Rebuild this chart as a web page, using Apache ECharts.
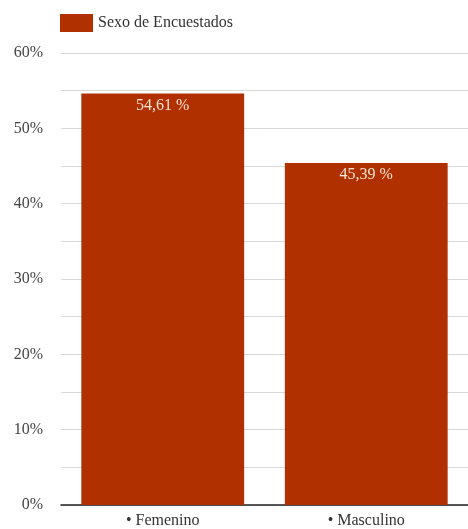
<!DOCTYPE html>
<html>
<head>
<meta charset="utf-8">
<script src="https://cdn.jsdelivr.net/npm/echarts@6/dist/echarts.min.js"></script>
<style>
  html, body { margin: 0; padding: 0; background: #fff; }
  #chart { width: 468px; height: 529px; }
</style>
</head>
<body>
<div id="chart"></div>
<script>
const categories = ['Femenino', 'Masculino']
const values = [54.61, 45.39]
const seriesName = 'Sexo de Encuestados'

const serif = '"Liberation Serif", "DejaVu Serif", serif'
const chart = echarts.init(document.getElementById('chart'))

chart.setOption({
  animation: false,
  legend: {
    left: 55,
    top: 9,
    itemWidth: 33,
    itemHeight: 18,
    itemGap: 8,
    icon: 'rect',
    textStyle: { fontFamily: serif, fontSize: 16, color: '#333' },
  },
  grid: { left: 61, right: -4, top: 53, bottom: 24 },
  xAxis: {
    type: 'category',
    data: categories,
    axisTick: { show: false },
    axisLine: { lineStyle: { color: '#222', width: 1.5 } },
    axisLabel: {
      fontFamily: serif,
      fontSize: 16,
      color: '#333',
      margin: 8,
      formatter: (v) => '• ' + v,
    },
  },
  yAxis: {
    type: 'value',
    min: 0,
    max: 60,
    interval: 5,
    axisLine: { show: false },
    axisTick: { show: false },
    splitLine: { lineStyle: { color: '#d8d8d8' } },
    axisLabel: {
      fontFamily: serif,
      fontSize: 16,
      color: '#444',
      margin: 18,
      formatter: (v) => (v % 10 === 0 ? v + '%' : ''),
    },
  },
  series: [
    {
      name: seriesName,
      type: 'bar',
      data: values,
      barWidth: '80%',
      itemStyle: { color: '#b03000' },
      label: {
        show: true,
        position: 'insideTop',
        distance: 4,
        fontFamily: serif,
        fontSize: 16,
        color: '#f6e4d8',
        formatter: (p) => p.value.toFixed(2).replace('.', ',') + ' %',
      },
    },
  ],
})
</script>
</body>
</html>
